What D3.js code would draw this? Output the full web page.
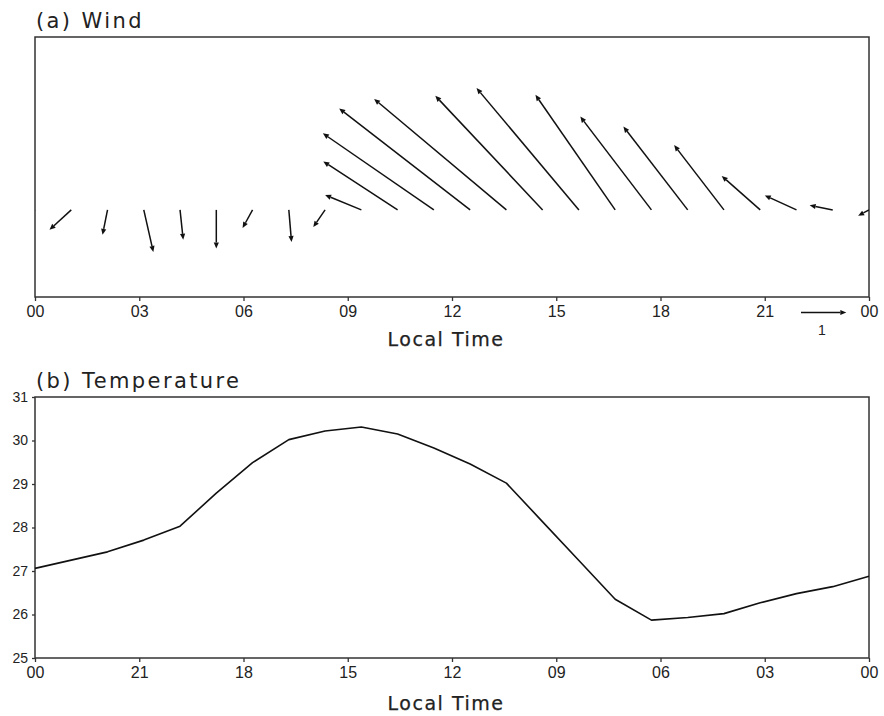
<!DOCTYPE html>
<html>
<head>
<meta charset="utf-8">
<script src="https://cdn.jsdelivr.net/npm/d3@7"></script>
<style>
  body { margin: 0; background: #fff; }
  svg text { font-family: "Liberation Sans", Arial, sans-serif; fill: #222; }
  .title { font-family: "DejaVu Sans", sans-serif; font-size: 21px; letter-spacing: 2.4px; }
  .xlab { font-family: "DejaVu Sans", sans-serif; font-size: 19px; letter-spacing: 1.5px;
          stroke: #222; stroke-width: 0.25px; }
</style>
</head>
<body>
<div id="chart"></div>
<script>
// hourly composite, 24 samples spread over the day
const windU = [-0.24, -0.48, -0.11, 0.21, 0.07, 0.00, -0.22, 0.06, -0.26, -0.80, -1.64, -2.45,
               -2.89, -2.92, -2.37, -2.26, -1.76, -1.57, -1.42, -1.10, -0.85, -0.70, -0.51, -0.24];
const windV = [-0.13, -0.44, -0.55, -0.93, -0.66, -0.85, -0.40, -0.71, -0.38, 0.33, 1.07, 1.69,
               2.24, 2.45, 2.52, 2.69, 2.54, 2.06, 1.84, 1.43, 0.75, 0.32, 0.10, -0.13];
const temperature = [27.06, 27.25, 27.44, 27.71, 28.03, 28.79, 29.49, 30.02, 30.22, 30.31, 30.15, 29.83,
                     29.46, 29.02, 28.13, 27.24, 26.35, 25.87, 25.93, 26.02, 26.27, 26.48, 26.64, 26.88];
const hourTicks = [0, 3, 6, 9, 12, 15, 18, 21, 24];
const tempTicks = [25, 26, 27, 28, 29, 30, 31];
const refSpeed = 1;

const W = 884, H = 716;
const svg = d3.select("#chart").append("svg").attr("width", W).attr("height", H);

const left = 35, right = 869;
const pA = {top: 37, bottom: 297};
const pB = {top: 397, bottom: 658};

const xIdx = d3.scaleLinear().domain([0, windU.length - 1]).range([left, right]);
const xHourA = d3.scaleLinear().domain([0, 24]).range([left, right]);
const xHourB = d3.scaleLinear().domain([24, 0]).range([left, right]);
const fmtHour = h => d3.format("02d")(h % 24);
const speed = d3.scaleLinear().domain([0, 1]).range([0, 45.3]);
const yLevel = d3.scaleLinear().domain([0, 1]).range([pA.bottom, pA.top]);
const yTemp = d3.scaleLinear().domain([25, 31]).range([pB.bottom, pB.top]);

svg.append("defs").append("clipPath").attr("id", "clipA")
  .append("rect").attr("x", left).attr("y", pA.top)
  .attr("width", right - left).attr("height", pA.bottom - pA.top);

function frame(p) {
  svg.append("rect").attr("x", left).attr("y", p.top)
    .attr("width", right - left).attr("height", p.bottom - p.top)
    .attr("fill", "none").attr("stroke", "#333").attr("stroke-width", 1.5);
}

function xAxis(scale, y) {
  const g = svg.append("g").attr("transform", "translate(0," + y + ")")
    .call(d3.axisBottom(scale).tickValues(hourTicks).tickFormat(fmtHour).tickSize(4).tickPadding(5));
  g.select(".domain").remove();
  g.selectAll("line").attr("stroke", "#333").attr("stroke-width", 1.3);
  g.selectAll("text").style("font-size", "16px").attr("fill", "#222");
}

// ---- (a) Wind ----
frame(pA);
xAxis(xHourA, pA.bottom);
svg.append("text").attr("class", "title").attr("x", 36).attr("y", 28).text("(a)  Wind");
svg.append("text").attr("class", "xlab").attr("x", 446).attr("y", 346)
  .attr("text-anchor", "middle").text("Local Time");

const baseLevel = 0.335;

function arrow(g, x0, y0, dx, dy) {
  const len = Math.hypot(dx, dy);
  if (len < 0.5) return;
  const ux = dx / len, uy = dy / len;
  const hl = Math.min(6, len * 0.5), hw = 2.6;
  const bx = x0 + dx - ux * hl, by = y0 + dy - uy * hl;
  g.append("line").attr("x1", x0).attr("y1", y0).attr("x2", bx).attr("y2", by)
    .attr("stroke", "#111").attr("stroke-width", 1.5);
  g.append("path")
    .attr("d", "M" + (x0 + dx) + "," + (y0 + dy) +
               "L" + (bx - uy * hw) + "," + (by + ux * hw) +
               "L" + (bx + uy * hw) + "," + (by - ux * hw) + "Z")
    .attr("fill", "#111");
}

const arrows = svg.append("g").attr("clip-path", "url(#clipA)");
windU.forEach((u, i) => {
  arrow(arrows, xIdx(i), yLevel(baseLevel), speed(u), -speed(windV[i]));
});

// reference vector
const refG = svg.append("g");
arrow(refG, 801, 312.5, speed(refSpeed), 0);
svg.append("text").attr("x", 822).attr("y", 335).attr("text-anchor", "middle")
  .style("font-size", "14px").text(refSpeed);

// ---- (b) Temperature ----
frame(pB);
xAxis(xHourB, pB.bottom);
svg.append("text").attr("class", "title").attr("x", 36).attr("y", 388).text("(b)  Temperature");
svg.append("text").attr("class", "xlab").attr("x", 446).attr("y", 710)
  .attr("text-anchor", "middle").text("Local Time");

const yAx = svg.append("g").attr("transform", "translate(" + left + ",0)")
  .call(d3.axisLeft(yTemp).tickValues(tempTicks).tickFormat(d3.format("d")).tickSize(3).tickPadding(4));
yAx.select(".domain").remove();
yAx.selectAll("line").attr("stroke", "#333").attr("stroke-width", 1.3);
yAx.selectAll("text").style("font-size", "14px").attr("fill", "#222");

const line = d3.line().x((d, i) => xIdx(i)).y(d => yTemp(d));
svg.append("path").datum(temperature).attr("d", line)
  .attr("fill", "none").attr("stroke", "#111").attr("stroke-width", 1.6)
  .attr("stroke-linejoin", "round");
</script>
</body>
</html>
